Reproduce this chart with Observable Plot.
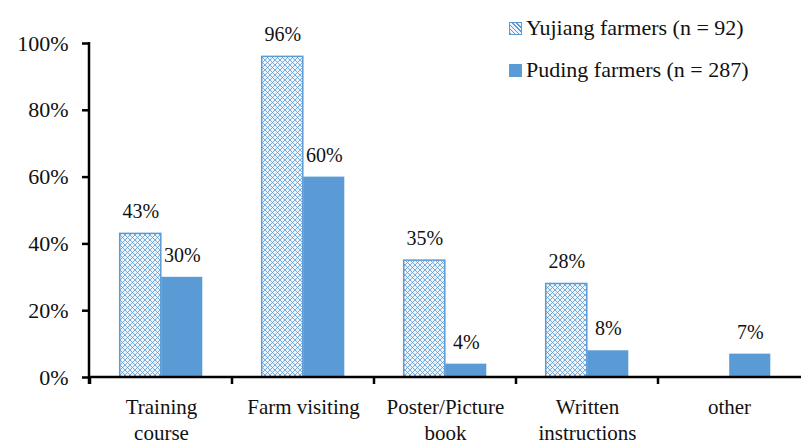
<!DOCTYPE html>
<html>
<head>
<meta charset="utf-8">
<script src="https://cdn.jsdelivr.net/npm/d3@7"></script>
<script src="https://cdn.jsdelivr.net/npm/@observablehq/plot@0.6"></script>
<style>
  body { margin: 0; background: #fff; }
  #wrap { position: relative; width: 801px; height: 444px; font-family: "Liberation Serif", "Times New Roman", Times, "DejaVu Serif", serif; }
  #legend { position: absolute; left: 509px; top: 7px; font-size: 22px; color: #111; line-height: 42px; }
  #legend .sw { display: inline-block; width: 13px; height: 13px; margin-right: 4px; vertical-align: 0px; box-sizing: border-box; }
  svg text { font-family: "Liberation Serif", "Times New Roman", Times, "DejaVu Serif", serif; }
</style>
</head>
<body>
<div id="wrap">
  <div id="chart"></div>
  <div id="legend"></div>
</div>
<script>
const categories = ["Training course", "Farm visiting", "Poster/Picture book", "Written instructions", "other"];
const categoryLabels = ["Training\ncourse", "Farm visiting", "Poster/Picture\nbook", "Written\ninstructions", "other"];
const seriesNames = ["Yujiang farmers (n = 92)", "Puding farmers (n = 287)"];
const yujiang = [0.43, 0.96, 0.35, 0.28, null];
const puding = [0.30, 0.60, 0.04, 0.08, 0.07];
const yTicks = [0, 0.2, 0.4, 0.6, 0.8, 1.0];

const data = [];
categories.forEach((c, i) => {
  if (yujiang[i] != null) data.push({category: c, series: seriesNames[0], value: yujiang[i]});
  if (puding[i] != null) data.push({category: c, series: seriesNames[1], value: puding[i]});
});
const labelOf = new Map(categories.map((c, i) => [c, categoryLabels[i]]));

const W = 801, H = 444;
const mL = 89, mR = 0;
const step = (W - mL - mR) / categories.length;
const barW = 41.5;
const gap = (step - 2 * barW) / 2;
const inset = s => s === seriesNames[0]
  ? {insetLeft: gap, insetRight: gap + barW}
  : {insetLeft: gap + barW, insetRight: gap};

const yjData = data.filter(d => d.series === seriesNames[0]);
const pdData = data.filter(d => d.series === seriesNames[1]);

function axisLines() {
  return (index, scales, values, dimensions) => {
    const g = d3.create("svg:g");
    const y0 = scales.y(0);
    const yTop = scales.y(1);
    const x0 = dimensions.marginLeft;
    g.append("line").attr("x1", x0).attr("x2", x0).attr("y1", yTop - 1).attr("y2", y0 + 7)
      .attr("stroke", "#000").attr("stroke-width", 2.5);
    g.append("line").attr("x1", x0).attr("x2", dimensions.width - dimensions.marginRight).attr("y1", y0).attr("y2", y0)
      .attr("stroke", "#000").attr("stroke-width", 2.5);
    for (const c of categories) {
      const x = scales.x(c);
      g.append("line").attr("x1", x).attr("x2", x).attr("y1", y0).attr("y2", y0 + 7)
        .attr("stroke", "#000").attr("stroke-width", 2.5);
    }
    return g.node();
  };
}

const fontFam = "'Liberation Serif', 'Times New Roman', Times, 'DejaVu Serif', serif";
const chart = Plot.plot({
  width: W, height: H,
  marginLeft: mL, marginRight: mR, marginTop: 43, marginBottom: 67,
  style: {fontFamily: fontFam, background: "#fff", color: "#111"},
  x: {domain: categories, padding: 0, label: null},
  y: {domain: [0, 1], label: null},
  marks: [
    Plot.barY(yjData, {x: "category", y: "value", fill: "url(#xhatch)", stroke: "#5b9bd5", strokeWidth: 1.5, ...inset(seriesNames[0])}),
    Plot.barY(pdData, {x: "category", y: "value", fill: "#5b9bd5", ...inset(seriesNames[1])}),
    Plot.text(yjData, {x: "category", y: "value", text: d => Math.round(d.value * 100) + "%", dx: -(step / 2 - gap - barW / 2), dy: -22, fontSize: 20, fill: "#111"}),
    Plot.text(pdData, {x: "category", y: "value", text: d => Math.round(d.value * 100) + "%", dx: (step / 2 - gap - barW / 2), dy: -22, fontSize: 20, fill: "#111"}),
    Plot.axisY({ticks: yTicks, tickFormat: d => Math.round(d * 100) + "%", tickSize: 7, tickPadding: 14, fontSize: 22, strokeWidth: 2.5, stroke: "#000"}),
    Plot.axisX({tickSize: 0, tickPadding: 18, fontSize: 21, lineHeight: 1.25, tickFormat: d => labelOf.get(d), textAnchor: "middle"}),
    axisLines()
  ]
});

// hatch pattern definition
const defs = d3.select(chart).insert("defs", ":first-child");
const pat = defs.append("pattern").attr("id", "xhatch").attr("patternUnits", "userSpaceOnUse")
  .attr("width", 5).attr("height", 5);
pat.append("rect").attr("width", 5).attr("height", 5).attr("fill", "#eef4fb");
pat.append("path").attr("d", "M0,0L5,5M5,0L0,5").attr("stroke", "#5b9bd5").attr("stroke-width", 0.8).attr("fill", "none");

document.getElementById("chart").appendChild(chart);

// legend
const legend = document.getElementById("legend");
seriesNames.forEach((name, i) => {
  const row = document.createElement("div");
  const sw = document.createElement("span");
  sw.className = "sw";
  if (i === 0) {
    sw.style.border = "1px solid #5b9bd5";
    sw.style.background = "repeating-linear-gradient(45deg,#5b9bd5 0 1px,#eef4fb 1px 3px),#eef4fb";
  } else {
    sw.style.background = "#5b9bd5";
  }
  row.appendChild(sw);
  row.appendChild(document.createTextNode(name));
  legend.appendChild(row);
});
</script>
</body>
</html>
